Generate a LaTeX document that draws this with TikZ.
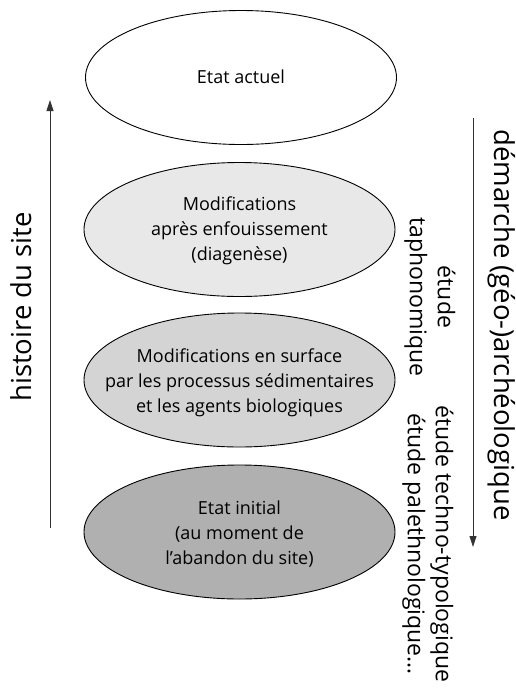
\documentclass[tikz,border=0pt]{standalone}
\usepackage{fontspec}
\setmainfont{Open Sans}
\usetikzlibrary{shapes.geometric,arrows.meta}
\definecolor{ellA}{HTML}{E8E8E8}
\definecolor{ellB}{HTML}{D4D4D4}
\definecolor{ellC}{HTML}{B0B0B0}
\definecolor{lineC}{HTML}{333333}
\begin{document}
\begin{tikzpicture}[x=1pt,y=-1pt,
  stage/.style={ellipse,draw=black,line width=0.9pt,minimum width=311pt,minimum height=134pt,inner sep=0pt},
  stagetext/.style={align=center,inner sep=0pt,font=\fontsize{18}{25}\selectfont},
  biglab/.style={font=\fontsize{27.5}{32}\selectfont},
  smalllab/.style={font=\fontsize{23}{28}\selectfont,align=center},
  axis/.style={draw=lineC,line width=0.9pt,-{Triangle[length=11pt,width=7pt]}}]
\useasboundingbox (0,0) rectangle (515,689);
\node[stage,fill=white] (e1) at (241,77.5) {};
\node[stage,fill=ellA] (e2) at (239.5,229.5) {};
\node[stage,fill=ellB] (e3) at (239.5,380) {};
\node[stage,fill=ellC] (e4) at (239.5,532) {};
\node[stagetext] (t1) at ([yshift=1pt]e1.center) {Etat actuel};
\node[stagetext] (t2) at ([yshift=-1pt]e2.center) {Modifications\\après enfouissement\\(diagenèse)};
\node[stagetext] (t3) at ([yshift=-3pt]e3.center) {Modifications en surface\\par les processus sédimentaires\\et les agents biologiques};
\node[stagetext] (t4) at ([yshift=-2pt]e4.center) {Etat initial\\(au moment de\\l’abandon du site)};
\coordinate (hb) at (50,528);
\coordinate (ht) at (50,100);
\draw[axis] (hb) -- (ht);
\coordinate (dt) at (473,118);
\coordinate (db) at (473,547);
\draw[axis] (dt) -- (db);
\node[biglab,rotate=90] (hist) at (21,307) {histoire du site};
\node[biglab,rotate=-90] (dem) at (502,325) {démarche (géo-)archéologique};
\node[smalllab,rotate=-90] (taph) at (430,297) {étude\\taphonomique};
\node[smalllab,rotate=-90] (techno) at (428,544) {étude techno-typologique\\étude palethnologique…};
\end{tikzpicture}
\end{document}
